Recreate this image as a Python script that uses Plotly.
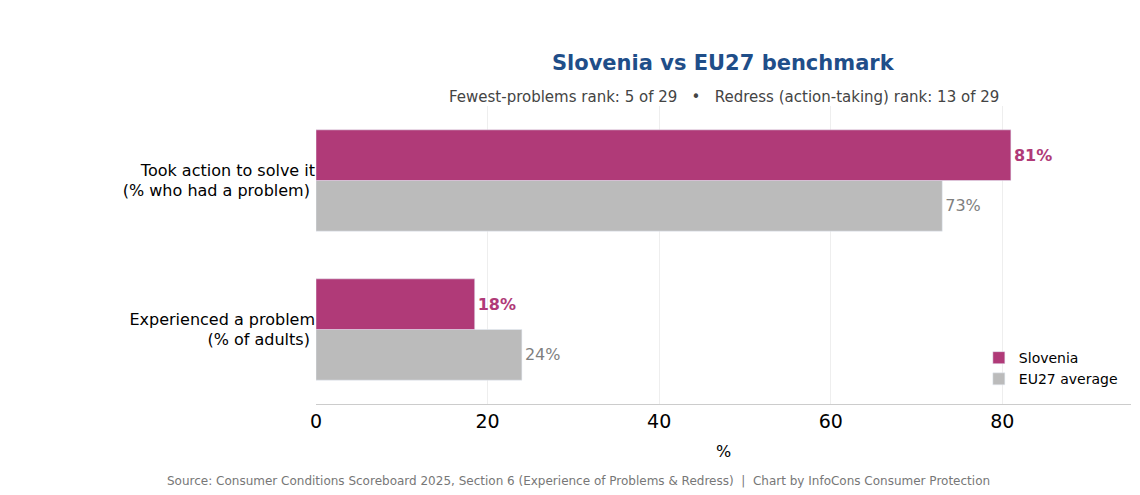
import plotly.graph_objects as go

categories = ["Experienced a problem<br>(% of adults)", "Took action to solve it<br>(% who had a problem)"]
slovenia = [18.5, 81]
eu27 = [24, 73]
slovenia_text = ["18%", "81%"]
eu27_text = ["24%", "73%"]

fig = go.Figure()
fig.add_trace(go.Bar(y=categories, x=eu27, orientation="h", name="EU27 average",
                     marker_color="#BBBBBB", text=eu27_text, textposition="outside",
                     textfont=dict(color="#7f7f7f", size=16)))
fig.add_trace(go.Bar(y=categories, x=slovenia, orientation="h", name="Slovenia",
                     marker_color="#B03A78", text=slovenia_text, textposition="outside",
                     textfont=dict(color="#B03A78", size=16, weight="bold")))

fig.update_layout(
    width=1140, height=495,
    barmode="group", bargap=0.32, bargroupgap=0,
    plot_bgcolor="white", paper_bgcolor="white",
    font=dict(family="DejaVu Sans, sans-serif", size=16, color="black"),
    margin=dict(l=308, r=17, t=98, b=99),
    title=dict(text="<b>Slovenia vs EU27 benchmark</b>", x=0.627, xanchor="center", y=0.889, yanchor="middle",
               font=dict(size=21, color="#1F4E89")),
    legend=dict(x=0.99, y=0.03, xanchor="right", yanchor="bottom", traceorder="reversed",
                font=dict(size=14), bgcolor="rgba(255,255,255,0)"),
    annotations=[
        dict(text="Fewest-problems rank: 5 of 29   •   Redress (action-taking) rank: 13 of 29",
             xref="paper", yref="paper", x=0.5, y=1.0, yshift=20, showarrow=False,
             font=dict(size=15, color="#444444")),
        dict(text="Source: Consumer Conditions Scoreboard 2025, Section 6 (Experience of Problems & Redress)  |  Chart by InfoCons Consumer Protection",
             xref="paper", yref="paper", x=0.322, xanchor="center", y=0, yshift=-86,
             showarrow=False, font=dict(size=12, color="#777777")),
    ],
)
fig.update_xaxes(range=[0, 95], tickvals=[0, 20, 40, 60, 80], title=dict(text="%", font=dict(size=16)),
                 showgrid=True, gridcolor="#eeeeee", zeroline=False, showline=True, linecolor="#cccccc",
                 tickfont=dict(size=19), automargin=False)
fig.update_yaxes(showgrid=False, ticksuffix=" ", automargin=False)

fig.write_html("out.html")
